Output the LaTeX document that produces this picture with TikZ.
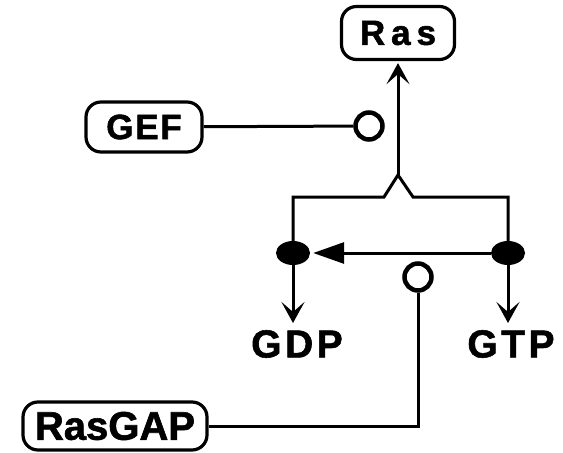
\documentclass[tikz,border=0pt]{standalone}
\usepackage{fontspec}
\setmainfont{Liberation Sans}
\usetikzlibrary{arrows.meta,shapes.geometric}

\tikzset{
  molbox/.style={draw, line width=3.2pt, rounded corners=15pt, inner sep=0pt},
  conn/.style={line width=3pt},
  opencirc/.style={circle, draw, line width=4.5pt, fill=white, minimum size=27pt, inner sep=0pt},
  dotnode/.style={ellipse, fill=black, minimum width=34pt, minimum height=24pt, inner sep=0pt},
  lbl/.style={inner sep=0pt},
  barb/.tip={Stealth[length=21pt, width=23pt, inset=10pt]},
  tri/.tip={Triangle[length=31pt, width=21pt]}
}

\begin{document}
\begin{tikzpicture}[x=1pt, y=-1pt]
\useasboundingbox (0,0) rectangle (563,453);

% the three protein boxes
\node[molbox, minimum width=113pt, minimum height=53pt,
  font=\bfseries\fontsize{35}{37}\selectfont\addfontfeature{LetterSpace=17,FakeBold=1.5}]
  (ras) at (398,33) {Ras};
\node[molbox, minimum width=116pt, minimum height=50pt,
  font=\bfseries\fontsize{35}{38}\selectfont\addfontfeature{LetterSpace=5,FakeBold=1.5}]
  (gef) at (144,127) {GEF};
\node[molbox, minimum width=184pt, minimum height=48pt,
  font=\bfseries\fontsize{40}{42}\selectfont\addfontfeature{FakeBold=1.5}]
  (rasgap) at (115,426) {RasGAP};

% nucleotide labels
\node[lbl, font=\bfseries\fontsize{39}{42}\selectfont\addfontfeature{LetterSpace=9,FakeBold=1.5}]
  (gdp) at (297,344) {GDP};
\node[lbl, font=\bfseries\fontsize{39}{42}\selectfont\addfontfeature{LetterSpace=9,FakeBold=1.5}]
  (gtp) at (511,344) {GTP};

% switch points
\coordinate (cornerL) at (293,197);
\coordinate (cornerR) at (508,197);
\coordinate (bumpL) at (384,197);
\coordinate (peak) at (398,175);
\coordinate (bumpR) at (413,197);
\coordinate (gapturn) at (418,426);

\draw[conn] (293,253) -- (cornerL) -- (bumpL) -- (peak) -- (bumpR) -- (cornerR) -- (508,253);
\node[dotnode] (dotL) at (293,253) {};
\node[dotnode] (dotR) at (508,253) {};

\draw[conn, -{barb}, shorten >=2pt] (peak) -- (ras.south);
\draw[conn, -{barb}] (dotL) -- ([yshift=7pt]dotL |- gdp.north);
\draw[conn, -{barb}] (dotR) -- ([yshift=7pt]dotR |- gtp.north);
\draw[conn, -{tri}, shorten >=3pt] (dotR) -- (dotL);

% modifiers
\node[opencirc] (gefmod) at (369,126) {};
\node[opencirc] (gapmod) at (418,277) {};
\draw[conn] (gef) -- (gefmod);
\draw[conn] (rasgap) -- (gapturn) -- (gapmod);

\end{tikzpicture}
\end{document}
